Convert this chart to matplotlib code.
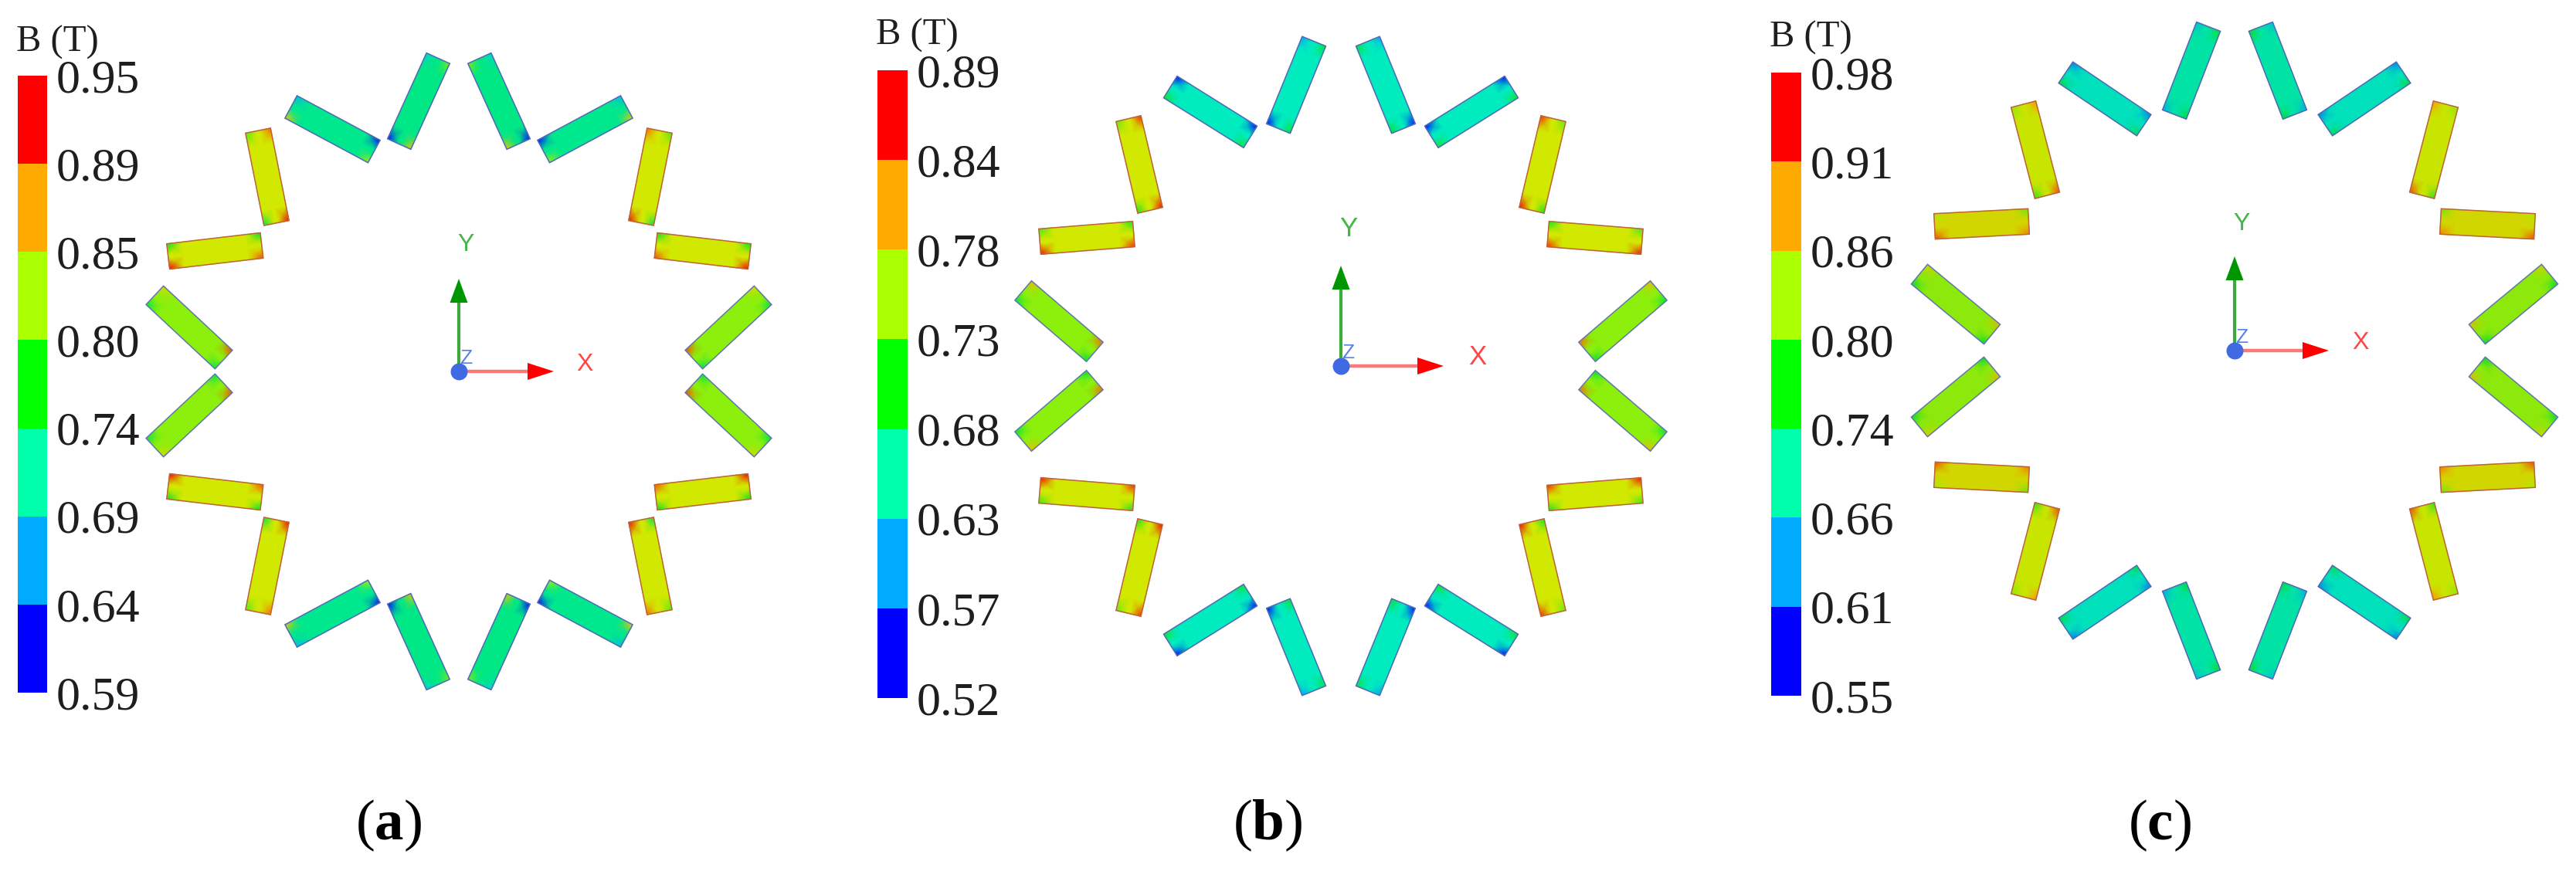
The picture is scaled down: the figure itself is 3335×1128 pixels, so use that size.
import numpy as np
from matplotlib import pyplot as plt
from matplotlib.colors import LinearSegmentedColormap, ListedColormap, Normalize
from matplotlib.patches import Polygon

plt.rcParams['font.family'] = ['Liberation Serif', 'DejaVu Serif']
plt.rcParams['mathtext.fontset'] = 'custom'
plt.rcParams['mathtext.bf'] = 'Liberation Serif:bold'
plt.rcParams['mathtext.rm'] = 'Liberation Serif'

## Data ##
# colour bar labels, top to bottom
ticks_a = ['0.95', '0.89', '0.85', '0.80', '0.74', '0.69', '0.64', '0.59']
ticks_b = ['0.89', '0.84', '0.78', '0.73', '0.68', '0.63', '0.57', '0.52']
ticks_c = ['0.98', '0.91', '0.86', '0.80', '0.74', '0.66', '0.61', '0.55']

# one quadrant of magnets, the other three are mirror images (centre x, y, tilt)
mag_x_a = [52, 163.5, 248, 315.7, 349]
mag_y_a = [350, 313.7, 252, 156, 57]
mag_tilt_a = [-65.6, 28.2, 78.7, -6.7, 43]

mag_x_b = [57.9, 169, 261, 329, 365]
mag_y_b = [364, 329, 261, 166, 58]
mag_tilt_b = [-67.8, 32, 76.7, -4.6, 40.6]

mag_x_c = [55.9, 168, 258, 327.5, 361]
mag_y_c = [362.6, 326, 260, 164, 60]
mag_tilt_c = [-68.8, 34, 75.4, -3, 39.6]

# flux density in the body of each magnet (T)
body_a = [0.739, 0.735, 0.830, 0.830, 0.806]
body_b = [0.652, 0.652, 0.766, 0.766, 0.742]
body_c = [0.712, 0.700, 0.833, 0.845, 0.810]

# flux density at the four corners of each magnet (T)
corners_a = [[0.80, 0.70, 0.85, 0.62], [0.81, 0.62, 0.85, 0.68], [0.76, 0.92, 0.79, 0.89],
             [0.90, 0.77, 0.93, 0.77], [0.76, 0.90, 0.76, 0.84]]
corners_b = [[0.70, 0.60, 0.705, 0.55], [0.71, 0.55, 0.71, 0.55], [0.71, 0.86, 0.73, 0.85],
             [0.85, 0.71, 0.86, 0.72], [0.70, 0.83, 0.70, 0.80]]
corners_c = [[0.77, 0.67, 0.76, 0.65], [0.75, 0.63, 0.76, 0.63], [0.78, 0.92, 0.81, 0.89],
             [0.90, 0.80, 0.92, 0.82], [0.76, 0.87, 0.76, 0.85]]

bar_colors = ['#0000ff', '#00aaff', '#00ffaa', '#00ff00', '#aaff00', '#ffaa00', '#ff0000']
field_colors = ['#0000ff', '#00aaf0', '#00ebbe', '#00e128', '#c8f500', '#ffa500', '#f00000']
edge_colors = ['#5569b9', '#5569b9', '#be643c', '#be643c', '#6478b0']

W, H = 3335, 1128
mag_len, mag_wid = 122, 33
mesh_s = np.array([-1, -0.68, 0.68, 1])
mesh_t = np.array([-1, -0.1, 0.1, 1])


def field_cmap(shade):
    # colours sit at the middle of each of the seven bands
    pos = [0] + [(i + 0.5) / 7 for i in range(7)] + [1]
    cols = [field_colors[0]] + field_colors + [field_colors[-1]]
    rgb = [tuple(shade * int(c[j:j + 2], 16) / 255 for j in (1, 3, 5)) for c in cols]
    return LinearSegmentedColormap.from_list('field', list(zip(pos, rgb)))


def draw_magnet(ax, x, y, tilt, body, corners, edge, cmap, norm):
    a = np.radians(tilt)
    u = np.array([np.cos(a), np.sin(a)]) * mag_len / 2
    v = np.array([-np.sin(a), np.cos(a)]) * mag_wid / 2
    vals = np.full((4, 4), body)
    vals[0, 0], vals[0, -1], vals[-1, 0], vals[-1, -1] = corners
    ss, tt = np.meshgrid(mesh_s, mesh_t, indexing='ij')
    for mx, my in [(1, 1), (-1, 1), (1, -1), (-1, -1)]:
        px = mx * (x + ss * u[0] + tt * v[0])
        py = my * (y + ss * u[1] + tt * v[1])
        ax.pcolormesh(px, py, vals, shading='gouraud', cmap=cmap, norm=norm)
        outline = np.column_stack([px[[0, 0, -1, -1], [0, -1, -1, 0]], py[[0, 0, -1, -1], [0, -1, -1, 0]]])
        ax.add_patch(Polygon(outline, closed=True, fill=False, ec=edge, lw=1.1, joinstyle='miter'))


def draw_panel(cx, cy, xs, ys, tilts, body, corners, ticks, bar, title_xy, caption, cap_x,
               triad, y_lab, x_lab, lab_size, shade=1.0):
    ax = fig.add_axes([(cx - 530) / W, 0, 1060 / W, 1])
    ax.set_xlim(-530, 530)
    ax.set_ylim(cy - H, cy)
    ax.axis('off')
    vmin, vmax = float(ticks[-1]), float(ticks[0])
    cmap = field_cmap(shade)
    norm = Normalize(vmin, vmax)
    for i in range(5):
        draw_magnet(ax, xs[i], ys[i], tilts[i], body[i], corners[i], edge_colors[i], cmap, norm)

    # coordinate triad
    ax.plot([0, 0], [0, triad[1] - 25], color='#3cab3c', lw=3, solid_capstyle='butt', zorder=3)
    ax.plot([0, triad[0] - 25], [0, 0], color='#ff7878', lw=3.2, solid_capstyle='butt', zorder=3)
    ax.arrow(0, triad[1] - 31, 0, 31, width=0, head_width=23, head_length=31,
             length_includes_head=True, fc='#009600', ec='none', zorder=4)
    ax.arrow(triad[0] - 34, 0, 34, 0, width=0, head_width=22, head_length=34,
             length_includes_head=True, fc='#ff0000', ec='none', zorder=4)
    ax.text(9, 17, 'Z', color='#5a82e6', fontsize=19, family='Liberation Sans',
            ha='center', va='center', zorder=3)
    ax.scatter([0], [0], s=250, color='#4169e1', linewidths=0, zorder=5)
    ax.text(y_lab[0], y_lab[1], 'Y', color='#46b446', fontsize=lab_size, family='Liberation Sans',
            ha='center', va='center')
    ax.text(x_lab[0], x_lab[1], 'X', color='#ff4646', fontsize=lab_size, family='Liberation Sans',
            ha='center', va='center')

    # stepped colour bar
    cax = fig.add_axes([bar[0] / W, 1 - bar[3] / H, (bar[1] - bar[0]) / W, (bar[3] - bar[2]) / H])
    cax.pcolormesh([0, 1], np.arange(8), np.arange(7).reshape(-1, 1), cmap=ListedColormap(bar_colors))
    cax.set_xticks([])
    cax.set_yticks(np.arange(8))
    cax.set_yticklabels(ticks[::-1], fontsize=44.6, color='#1e1e1e')
    cax.yaxis.tick_right()
    cax.tick_params(axis='y', length=0, pad=8.5)
    for s in cax.spines.values():
        s.set_visible(False)

    fig.text(title_xy[0] / W, 1 - title_xy[1] / H, 'B (T)', fontsize=35, color='#1e1e1e',
             ha='left', va='center')
    fig.text(cap_x / W, 1 - 1069 / H, caption, fontsize=54, color='black', ha='center', va='center')


## Plotting ##
fig = plt.figure(figsize=(W / 100, H / 100), dpi=100)
draw_panel(594, 481, mag_x_a, mag_y_a, mag_tilt_a, body_a, corners_a, ticks_a, (23, 61, 98, 897),
           (21, 55), r'($\mathbf{a}$)', 503, (123, 120), (9, 164), (163, 9), 23)
draw_panel(1736, 474, mag_x_b, mag_y_b, mag_tilt_b, body_b, corners_b, ticks_b, (1136, 1175, 91, 904),
           (1134, 46), r'($\mathbf{b}$)', 1641, (133, 130), (10, 178), (177, 11), 25)
draw_panel(2893, 454, mag_x_c, mag_y_c, mag_tilt_c, body_c, corners_c, ticks_c, (2293, 2332, 94, 901),
           (2291, 49), r'($\mathbf{c}$)', 2796, (122, 122), (9, 164), (163, 10), 23, shade=0.97)
fig.savefig('out.png', dpi=100)
